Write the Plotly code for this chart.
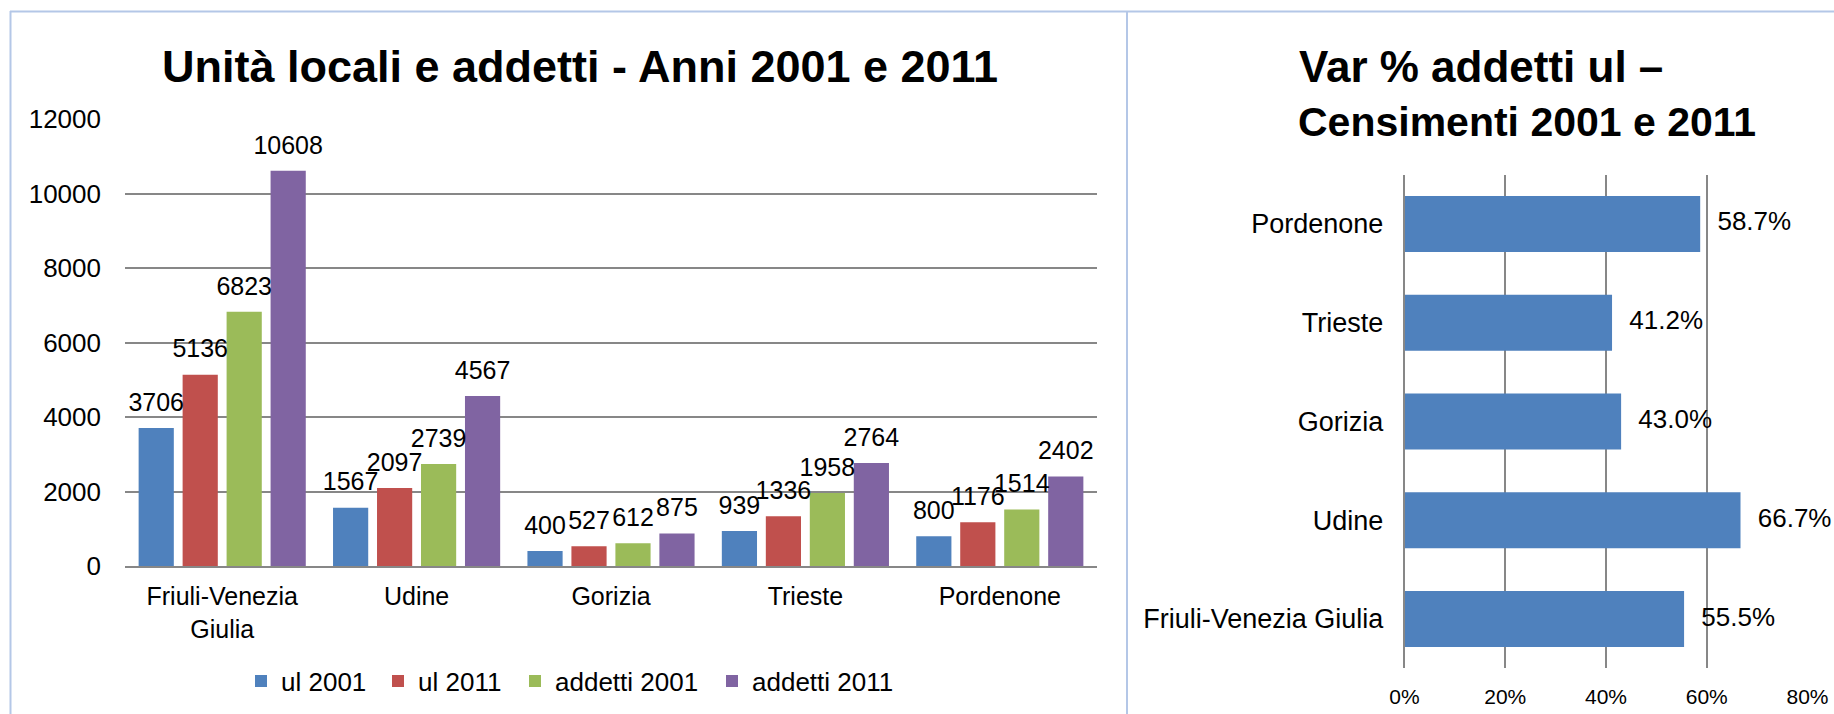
import plotly.graph_objects as go

# ---------------- data ----------------
regions = ["Friuli-Venezia Giulia", "Udine", "Gorizia", "Trieste", "Pordenone"]
region_ticks = ["Friuli-Venezia<br>Giulia", "Udine", "Gorizia", "Trieste", "Pordenone"]
series_names = ["ul 2001", "ul 2011", "addetti 2001", "addetti 2011"]
ul_2001 = [3706, 1567, 400, 939, 800]
ul_2011 = [5136, 2097, 527, 1336, 1176]
addetti_2001 = [6823, 2739, 612, 1958, 1514]
addetti_2011 = [10608, 4567, 875, 2764, 2402]
var_regions = ["Friuli-Venezia Giulia", "Udine", "Gorizia", "Trieste", "Pordenone"]
var_pct = [0.555, 0.667, 0.430, 0.412, 0.587]
left_title = "Unità locali e addetti - Anni 2001 e 2011"
right_title_lines = ["Var % addetti ul –", "Censimenti 2001 e 2011"]

# ---------------- style ----------------
W, H = 1834, 714
FONT = "Arial, Liberation Sans, sans-serif"
colors = ["#4F81BD", "#C0504D", "#9BBB59", "#8064A2"]
GRID = "#878787"
FRAME = "#B4C7E7"
BARGAP = 0.095
BARGROUPGAP = 0.2
legend_left_px = [241, 378, 515, 712]   # left edge of each legend entry


def px(x):
    return x / W


def py(y):
    return 1 - y / H


series = [ul_2001, ul_2011, addetti_2001, addetti_2011]
idx = list(range(len(regions)))
n = len(series)
slot = (1 - BARGAP) / n
legend_ids = ["legend", "legend2", "legend3", "legend4"]

fig = go.Figure()

for j, (name, vals) in enumerate(zip(series_names, series)):
    fig.add_trace(go.Bar(
        x=idx, y=vals, name=name, marker=dict(color=colors[j], line=dict(width=0)),
        xaxis="x", yaxis="y", hoverinfo="y", legend=legend_ids[j],
    ))

# value labels above the bars (placed through the same axis scale)
for j, vals in enumerate(series):
    xs = [i + (j - (n - 1) / 2) * slot for i in idx]
    fig.add_trace(go.Scatter(
        x=xs, y=vals, mode="markers+text", text=[str(v) for v in vals],
        textposition="top center", textfont=dict(size=25, color="black", family=FONT),
        marker=dict(size=16, color="rgba(0,0,0,0)"), showlegend=False,
        hoverinfo="skip", xaxis="x", yaxis="y", cliponaxis=False,
    ))

# right chart
fig.add_trace(go.Bar(
    x=var_pct, y=var_regions, orientation="h", width=0.567,
    marker=dict(color="#4F81BD", line=dict(width=0)), showlegend=False,
    xaxis="x2", yaxis="y2", hoverinfo="x+y",
))
fig.add_trace(go.Scatter(
    x=var_pct, y=var_regions, mode="markers+text",
    text=[f"{v * 100:.1f}%" for v in var_pct], textposition="middle right",
    textfont=dict(size=26, color="black", family=FONT),
    marker=dict(size=26, color="rgba(0,0,0,0)"), showlegend=False,
    hoverinfo="skip", xaxis="x2", yaxis="y2", cliponaxis=False,
))

legend_common = dict(
    orientation="h", xanchor="left", y=py(681), yanchor="middle",
    font=dict(size=26, family=FONT, color="black"), bgcolor="rgba(0,0,0,0)",
    borderwidth=0,
)
legends = {
    lid: dict(legend_common, x=px(xl)) for lid, xl in zip(legend_ids, legend_left_px)
}

fig.update_layout(
    width=W, height=H,
    margin=dict(l=0, r=0, t=0, b=0, pad=0, autoexpand=False),
    paper_bgcolor="white", plot_bgcolor="white",
    font=dict(family=FONT, size=25, color="black"),
    barmode="group", bargap=BARGAP, bargroupgap=BARGROUPGAP,
    showlegend=True,
    **legends,
    xaxis=dict(
        domain=[px(125), px(1097)], range=[-0.5, len(regions) - 0.5],
        tickvals=idx, ticktext=region_ticks, showgrid=False, zeroline=False,
        showline=True, linecolor=GRID, linewidth=2, ticks="",
        tickfont=dict(size=25), ticklabelstandoff=7, anchor="y", fixedrange=True,
        automargin=False,
    ),
    yaxis=dict(
        domain=[py(566), py(119)], range=[0, 12000], dtick=2000, tickformat="d",
        showgrid=True, gridcolor=GRID, gridwidth=2, zeroline=False, showline=False,
        ticks="", tickfont=dict(size=26), ticklabelstandoff=23, anchor="x",
        fixedrange=True, automargin=False,
    ),
    xaxis2=dict(
        domain=[px(1404.5), px(1807.5)], range=[0, 0.8], dtick=0.2, tickformat=".0%",
        showgrid=True, gridcolor=GRID, gridwidth=1.5, zeroline=False, showline=False,
        ticks="", tickfont=dict(size=21), ticklabelstandoff=14, anchor="y2",
        fixedrange=True, automargin=False,
    ),
    yaxis2=dict(
        domain=[py(668.4), py(174.6)], type="category",
        categoryorder="array", categoryarray=var_regions,
        showgrid=False, zeroline=False, showline=True, linecolor=GRID, linewidth=1.5,
        ticks="", tickfont=dict(size=27), ticklabelstandoff=14, anchor="x2",
        fixedrange=True, automargin=False,
    ),
    annotations=[
        dict(text=f"<b>{left_title}</b>", x=px(580), y=py(66), xref="paper", yref="paper",
             xanchor="center", yanchor="middle", showarrow=False,
             font=dict(size=45, family=FONT, color="black")),
        dict(text=f"<b>{right_title_lines[0]}</b>", x=px(1297), y=py(66),
             xref="paper", yref="paper", xanchor="left", yanchor="middle",
             showarrow=False, font=dict(size=44, family=FONT, color="black")),
        dict(text=f"<b>{right_title_lines[1]}</b>", x=px(1296), y=py(122),
             xref="paper", yref="paper", xanchor="left", yanchor="middle",
             showarrow=False, font=dict(size=41, family=FONT, color="black")),
    ],
    shapes=[
        dict(type="line", xref="paper", yref="paper", x0=px(10), x1=1, y0=py(11.5), y1=py(11.5),
             line=dict(color=FRAME, width=2)),
        dict(type="line", xref="paper", yref="paper", x0=px(10.5), x1=px(10.5), y0=py(11), y1=0,
             line=dict(color=FRAME, width=2)),
        dict(type="line", xref="paper", yref="paper", x0=px(1127), x1=px(1127), y0=py(11), y1=0,
             line=dict(color=FRAME, width=2)),
    ],
)

fig.write_html(
    "out.html",
    config={"displayModeBar": False},
    post_script="document.body.style.margin='0px';document.body.style.overflow='hidden';",
)
